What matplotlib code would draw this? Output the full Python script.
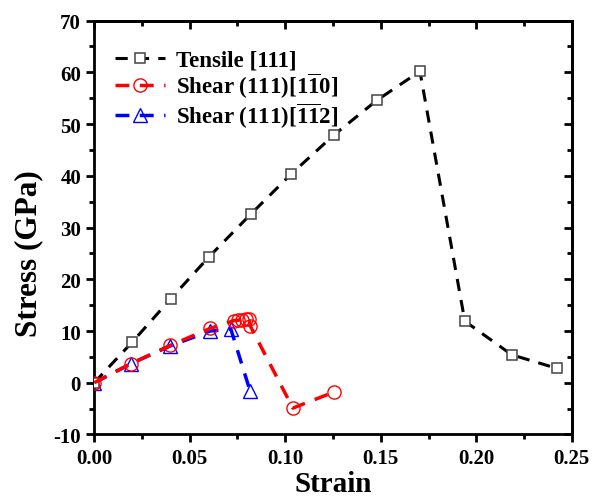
import matplotlib
matplotlib.use("Agg")
import matplotlib.pyplot as plt
from matplotlib.ticker import MultipleLocator, FormatStrFormatter

plt.rcParams['font.family'] = ['Liberation Serif', 'DejaVu Serif']
plt.rcParams['font.weight'] = 'bold'
plt.rcParams['axes.unicode_minus'] = False
plt.rcParams['mathtext.fontset'] = 'custom'
plt.rcParams['mathtext.rm'] = 'Liberation Serif:bold'
plt.rcParams['mathtext.bf'] = 'Liberation Serif:bold'

# tensile [111]
tens_x = [0.0, 0.02, 0.04, 0.06, 0.082, 0.103, 0.1255, 0.148, 0.1705, 0.194, 0.2186, 0.242]
tens_y = [0.0, 7.9, 16.2, 24.3, 32.6, 40.3, 47.9, 54.6, 60.2, 11.9, 5.4, 2.8]

# shear (111)[1-10]
sh1_x = [0.0, 0.0193, 0.0397, 0.0607, 0.073, 0.0755, 0.0775, 0.0795, 0.081, 0.0818, 0.104, 0.1255]
sh1_y = [0.0, 3.7, 7.2, 10.5, 12.0, 12.1, 12.2, 12.3, 12.4, 10.9, -4.9, -1.8]

# shear (111)[-1-12]
sh2_x = [0.0, 0.0193, 0.0397, 0.0607, 0.0715, 0.0816]
sh2_y = [0.0, 3.7, 7.1, 10.0, 10.4, -1.6]

fig = plt.figure(figsize=(6.0, 5.02), dpi=100)
ax = fig.add_axes([0.157, 0.1325, 0.796, 0.8245])

dash = (0, (4, 3))
ax.plot(tens_x, tens_y, ls=dash, lw=2.2, color='black', marker='s', ms=7.5,
        mfc='white', mec='#444444', mew=1.1, label='Tensile [111]', zorder=3)
ax.plot(sh1_x, sh1_y, ls=dash, lw=2.5, color='red', marker='o', ms=9.5,
        mfc='none', mec='red', mew=1.0, label=r'Shear (111)[1$\overline{1}$0]', zorder=4)
ax.plot(sh2_x, sh2_y, ls=dash, lw=2.5, color='blue', marker='^', ms=9.5,
        mfc='none', mec='blue', mew=1.0, label=r'Shear (111)[$\overline{1}\overline{1}$2]', zorder=2)

ax.set_xlim(0, 0.25)
ax.set_ylim(-10, 70)
ax.xaxis.set_major_locator(MultipleLocator(0.05))
ax.xaxis.set_minor_locator(MultipleLocator(0.025))
ax.yaxis.set_major_locator(MultipleLocator(10))
ax.yaxis.set_minor_locator(MultipleLocator(5))
ax.xaxis.set_major_formatter(FormatStrFormatter('%.2f'))

for s in ax.spines.values():
    s.set_linewidth(2)
ax.tick_params(which='both', direction='out', width=2, labelsize=15, top=False, right=False)
ax.tick_params(which='major', length=6)
ax.tick_params(which='minor', length=3.5)
for lab in ax.get_xticklabels() + ax.get_yticklabels():
    lab.set_fontweight('bold')

# mirrored inward ticks on top/right
axt = ax.secondary_xaxis('top')
axt.xaxis.set_major_locator(MultipleLocator(0.05))
axt.xaxis.set_minor_locator(MultipleLocator(0.025))
axt.tick_params(which='both', direction='in', width=2, labeltop=False)
axt.tick_params(which='major', length=6)
axt.tick_params(which='minor', length=3.5)
axt.spines['top'].set_linewidth(2)
axr = ax.secondary_yaxis('right')
axr.yaxis.set_major_locator(MultipleLocator(10))
axr.yaxis.set_minor_locator(MultipleLocator(5))
axr.tick_params(which='both', direction='in', width=2, labelright=False)
axr.tick_params(which='major', length=6)
axr.tick_params(which='minor', length=3.5)
axr.spines['right'].set_linewidth(2)

ax.set_xlabel('Strain', fontsize=21, fontweight='bold', labelpad=2)
ax.set_ylabel('Stress (GPa)', fontsize=22.5, fontweight='bold')
ax.yaxis.set_label_coords(-0.106, 0.44)

ax.legend(loc='upper left', bbox_to_anchor=(0.0, 0.98), frameon=False,
          handlelength=2.2, handletextpad=0.45, labelspacing=0.0,
          prop={'weight': 'bold', 'size': 16.5})

fig.savefig('out.png', dpi=100)
